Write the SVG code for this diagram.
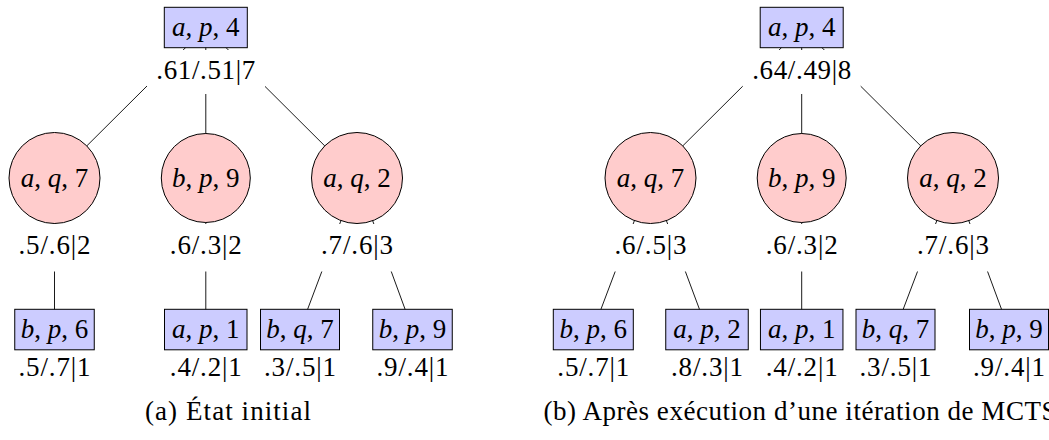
<svg xmlns="http://www.w3.org/2000/svg" width="1049" height="440" viewBox="0 0 1049 440">
<style>
.box{fill:#ccccff;stroke:#000;stroke-width:1}
.circ{fill:#ffcccc;stroke:#000;stroke-width:1}
.lab{fill:#fff}
.edge{stroke:#000;stroke-width:0.9;fill:none}
text{font-family:"Liberation Serif","DejaVu Serif",serif;font-size:27px;fill:#000;text-anchor:middle}
.i{font-style:italic}
</style>
<rect width="1049" height="440" fill="#fff"/>
<g id="connectors">
<line class="edge" x1="205.8" y1="27.5" x2="54.5" y2="178"/>
<line class="edge" x1="205.8" y1="27.5" x2="205.8" y2="178"/>
<line class="edge" x1="205.8" y1="27.5" x2="357" y2="178"/>
<line class="edge" x1="54.5" y1="178" x2="54.5" y2="329.5"/>
<line class="edge" x1="205.8" y1="178" x2="205.8" y2="329.5"/>
<line class="edge" x1="357" y1="178" x2="300" y2="329.5"/>
<line class="edge" x1="357" y1="178" x2="412.5" y2="329.5"/>
<line class="edge" x1="801.7" y1="27.5" x2="650.5" y2="178"/>
<line class="edge" x1="801.7" y1="27.5" x2="801.7" y2="178"/>
<line class="edge" x1="801.7" y1="27.5" x2="953" y2="178"/>
<line class="edge" x1="650.5" y1="178" x2="593.3" y2="329.5"/>
<line class="edge" x1="650.5" y1="178" x2="707" y2="329.5"/>
<line class="edge" x1="801.7" y1="178" x2="801.7" y2="329.5"/>
<line class="edge" x1="953" y1="178" x2="895.5" y2="329.5"/>
<line class="edge" x1="953" y1="178" x2="1009" y2="329.5"/>
</g>
<!-- Tree (a) -->
<g id="a-root">
<rect class="box" x="164.3" y="7.3" width="83" height="40.4"/>
<text x="205.8" y="36"><tspan class="i">a</tspan>, <tspan class="i">p</tspan>, 4</text>
<rect class="lab" x="147" y="50" width="118" height="44"/>
<text x="205.8" y="78.5" textLength="99" lengthAdjust="spacing">.61/.51|7</text>
</g>
<g id="a-aq7">
<circle class="circ" cx="54.5" cy="178" r="45.5"/>
<text x="54.5" y="186.5"><tspan class="i">a</tspan>, <tspan class="i">q</tspan>, 7</text>
<rect class="lab" x="10" y="224" width="89" height="47.5"/>
<text x="54.5" y="254" textLength="72" lengthAdjust="spacing">.5/.6|2</text>
</g>
<g id="a-bp9">
<circle class="circ" cx="205.8" cy="178" r="44.5"/>
<text x="205.8" y="186.5"><tspan class="i">b</tspan>, <tspan class="i">p</tspan>, 9</text>
<rect class="lab" x="161.3" y="224" width="89" height="47.5"/>
<text x="205.8" y="254" textLength="72" lengthAdjust="spacing">.6/.3|2</text>
</g>
<g id="a-aq2">
<circle class="circ" cx="357" cy="178" r="45.5"/>
<text x="357" y="186.5"><tspan class="i">a</tspan>, <tspan class="i">q</tspan>, 2</text>
<rect class="lab" x="312.5" y="224" width="89" height="47.5"/>
<text x="357" y="254" textLength="72" lengthAdjust="spacing">.7/.6|3</text>
</g>
<g id="a-bp6">
<rect class="box" x="14.75" y="309.3" width="79.5" height="40.5"/>
<text x="54.5" y="338"><tspan class="i">b</tspan>, <tspan class="i">p</tspan>, 6</text>
<text x="54.5" y="375.5" textLength="72" lengthAdjust="spacing">.5/.7|1</text>
</g>
<g id="a-ap1">
<rect class="box" x="164.5" y="309.3" width="82.5" height="40.5"/>
<text x="205.8" y="338"><tspan class="i">a</tspan>, <tspan class="i">p</tspan>, 1</text>
<text x="205.8" y="375.5" textLength="72" lengthAdjust="spacing">.4/.2|1</text>
</g>
<g id="a-bq7">
<rect class="box" x="260.5" y="309.3" width="79" height="40.5"/>
<text x="300" y="338"><tspan class="i">b</tspan>, <tspan class="i">q</tspan>, 7</text>
<text x="300" y="375.5" textLength="72" lengthAdjust="spacing">.3/.5|1</text>
</g>
<g id="a-bp9b">
<rect class="box" x="372.75" y="309.3" width="79.5" height="40.5"/>
<text x="412.5" y="338"><tspan class="i">b</tspan>, <tspan class="i">p</tspan>, 9</text>
<text x="412.5" y="375.5" textLength="72" lengthAdjust="spacing">.9/.4|1</text>
</g>
<text id="caption-a" x="228" y="419.5" textLength="166" lengthAdjust="spacing">(a) État initial</text>
<!-- Tree (b) -->
<g id="b-root">
<rect class="box" x="760.2" y="7.3" width="83" height="40.4"/>
<text x="801.7" y="36"><tspan class="i">a</tspan>, <tspan class="i">p</tspan>, 4</text>
<rect class="lab" x="742.7" y="50" width="118" height="44"/>
<text x="801.7" y="78.5" textLength="99" lengthAdjust="spacing">.64/.49|8</text>
</g>
<g id="b-aq7">
<circle class="circ" cx="650.5" cy="178" r="45.5"/>
<text x="650.5" y="186.5"><tspan class="i">a</tspan>, <tspan class="i">q</tspan>, 7</text>
<rect class="lab" x="606" y="224" width="89" height="47.5"/>
<text x="650.5" y="254" textLength="72" lengthAdjust="spacing">.6/.5|3</text>
</g>
<g id="b-bp9">
<circle class="circ" cx="801.7" cy="178" r="44.5"/>
<text x="801.7" y="186.5"><tspan class="i">b</tspan>, <tspan class="i">p</tspan>, 9</text>
<rect class="lab" x="757.2" y="224" width="89" height="47.5"/>
<text x="801.7" y="254" textLength="72" lengthAdjust="spacing">.6/.3|2</text>
</g>
<g id="b-aq2">
<circle class="circ" cx="953" cy="178" r="45.5"/>
<text x="953" y="186.5"><tspan class="i">a</tspan>, <tspan class="i">q</tspan>, 2</text>
<rect class="lab" x="908.5" y="224" width="89" height="47.5"/>
<text x="953" y="254" textLength="72" lengthAdjust="spacing">.7/.6|3</text>
</g>
<g id="b-bp6">
<rect class="box" x="553.3" y="309.3" width="80" height="40.5"/>
<text x="593.3" y="338"><tspan class="i">b</tspan>, <tspan class="i">p</tspan>, 6</text>
<text x="593.3" y="375.5" textLength="72" lengthAdjust="spacing">.5/.7|1</text>
</g>
<g id="b-ap2">
<rect class="box" x="665.75" y="309.3" width="82.5" height="40.5"/>
<text x="707" y="338"><tspan class="i">a</tspan>, <tspan class="i">p</tspan>, 2</text>
<text x="707" y="375.5" textLength="72" lengthAdjust="spacing">.8/.3|1</text>
</g>
<g id="b-ap1">
<rect class="box" x="760.45" y="309.3" width="82.5" height="40.5"/>
<text x="801.7" y="338"><tspan class="i">a</tspan>, <tspan class="i">p</tspan>, 1</text>
<text x="801.7" y="375.5" textLength="72" lengthAdjust="spacing">.4/.2|1</text>
</g>
<g id="b-bq7">
<rect class="box" x="856" y="309.3" width="79" height="40.5"/>
<text x="895.5" y="338"><tspan class="i">b</tspan>, <tspan class="i">q</tspan>, 7</text>
<text x="895.5" y="375.5" textLength="72" lengthAdjust="spacing">.3/.5|1</text>
</g>
<g id="b-bp9b">
<rect class="box" x="969.5" y="309.3" width="79" height="40.5"/>
<text x="1009" y="338"><tspan class="i">b</tspan>, <tspan class="i">p</tspan>, 9</text>
<text x="1009" y="375.5" textLength="72" lengthAdjust="spacing">.9/.4|1</text>
</g>
<text id="caption-b" x="800" y="419.5" textLength="513" lengthAdjust="spacing">(b) Après exécution d’une itération de MCTS</text>
</svg>
